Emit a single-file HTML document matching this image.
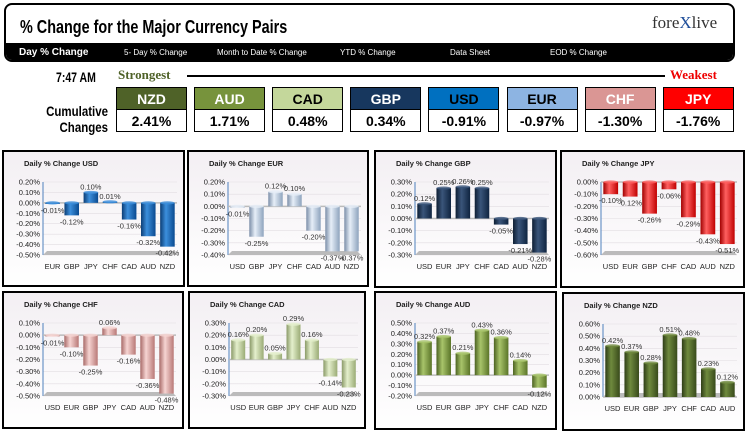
<!DOCTYPE html>
<html><head><meta charset="utf-8"><style>
body{margin:0;width:749px;height:432px;background:#fff;overflow:hidden;font-family:"Liberation Sans",sans-serif;position:relative}
.abs{position:absolute}
.hdr{left:4px;top:3px;width:731px;height:59px;border:2px solid #000;border-radius:8px;overflow:hidden;box-sizing:border-box}
.title{left:14px;top:12px;font-weight:bold;font-size:18px;transform:scaleX(.8);transform-origin:left}
.bar{left:0;top:38px;width:100%;height:21px;background:#000}
.tab{top:5px;color:#fff;font-size:8px}
.box{width:71px;height:23px;border:1px solid #000;box-sizing:border-box;text-align:center;font-weight:bold;line-height:22px}
</style></head><body>
<div class="abs hdr">
 <div class="abs title">% Change for the Major Currency Pairs</div>
 <div class="abs" style="left:646px;top:8px;font-family:'Liberation Serif',serif;font-size:17px;color:#333">fore<span style="color:#1f4e9a">X</span>live</div>
 <div class="abs bar">
  <div class="abs tab" style="left:13px;top:4px;font-size:10px;font-weight:bold">Day % Change</div>
  <div class="abs tab" style="left:118px">5- Day % Change</div>
  <div class="abs tab" style="left:211px">Month to Date % Change</div>
  <div class="abs tab" style="left:334px">YTD % Change</div>
  <div class="abs tab" style="left:444px">Data Sheet</div>
  <div class="abs tab" style="left:544px">EOD % Change</div>
 </div>
</div>
<div class="abs" style="left:56px;top:69px;font-weight:bold;font-size:14px;transform:scaleX(.75);transform-origin:left">7:47 AM</div>
<div class="abs" style="left:118px;top:67px;font-family:'Liberation Serif',serif;font-weight:bold;font-size:13px;color:#4f6228">Strongest</div>
<div class="abs" style="left:187px;top:75px;width:478px;height:2px;background:#000"></div>
<div class="abs" style="left:670px;top:67px;font-family:'Liberation Serif',serif;font-weight:bold;font-size:13px;color:#e00">Weakest</div>
<div class="abs" style="left:30px;top:103px;font-weight:bold;font-size:14px;text-align:right;line-height:16px;transform:scaleX(.82);transform-origin:right;width:78px">Cumulative<br>Changes</div>
<div id="boxes"></div>
<svg id="charts" class="abs" style="left:0;top:0" width="749" height="432"></svg>
<script>
const rankCurrencies=["NZD","AUD","CAD","GBP","USD","EUR","CHF","JPY"];
const rankValues=["2.41%","1.71%","0.48%","0.34%","-0.91%","-0.97%","-1.30%","-1.76%"];
const rankColors=["#4f6228","#77933c","#c4d79b","#17375e","#0070c0","#8db4e2","#da9694","#ff0000"];
const rankText=["#fff","#fff","#000","#fff","#000","#000","#fff","#fff"];
const bx=document.getElementById('boxes');
rankCurrencies.forEach((c,i)=>{
 const x=116+i*78.1;
 const t=document.createElement('div');t.className='abs box';
 t.style.cssText=`left:${x}px;top:87px;background:${rankColors[i]};color:${rankText[i]};font-size:14px`;
 t.textContent=c;
 
 
 bx.appendChild(t);
 const v=document.createElement('div');v.className='abs box';
 v.style.cssText=`left:${x}px;top:109px;background:#fff;font-size:14px`;
 v.textContent=rankValues[i];
 
 
 bx.appendChild(v);
});

const usdCats=["EUR","GBP","JPY","CHF","CAD","AUD","NZD"];
const usdVals=[-0.01,-0.12,0.10,0.01,-0.16,-0.32,-0.42];
const eurCats=["USD","GBP","JPY","CHF","CAD","AUD","NZD"];
const eurVals=[-0.01,-0.25,0.12,0.10,-0.20,-0.37,-0.37];
const gbpCats=["USD","EUR","JPY","CHF","CAD","AUD","NZD"];
const gbpVals=[0.12,0.25,0.26,0.25,-0.05,-0.21,-0.28];
const jpyCats=["USD","EUR","GBP","CHF","CAD","AUD","NZD"];
const jpyVals=[-0.10,-0.12,-0.26,-0.06,-0.29,-0.43,-0.51];
const chfCats=["USD","EUR","GBP","JPY","CAD","AUD","NZD"];
const chfVals=[-0.01,-0.10,-0.25,0.06,-0.16,-0.36,-0.48];
const cadCats=["USD","EUR","GBP","JPY","CHF","AUD","NZD"];
const cadVals=[0.16,0.20,0.05,0.29,0.16,-0.14,-0.23];
const audCats=["USD","EUR","GBP","JPY","CHF","CAD","NZD"];
const audVals=[0.32,0.37,0.21,0.43,0.36,0.14,-0.12];
const nzdCats=["USD","EUR","GBP","JPY","CHF","CAD","AUD"];
const nzdVals=[0.42,0.37,0.28,0.51,0.48,0.23,0.12];
const usdTicks=[0.2,0.1,0,-0.1,-0.2,-0.3,-0.4,-0.5];
const eurTicks=[0.2,0.1,0,-0.1,-0.2,-0.3,-0.4];
const gbpTicks=[0.3,0.2,0.1,0,-0.1,-0.2,-0.3];
const jpyTicks=[0,-0.1,-0.2,-0.3,-0.4,-0.5,-0.6];
const chfTicks=[0.1,0,-0.1,-0.2,-0.3,-0.4,-0.5];
const cadTicks=[0.3,0.2,0.1,0,-0.1,-0.2,-0.3];
const audTicks=[0.5,0.4,0.3,0.2,0.1,0,-0.1,-0.2];
const nzdTicks=[0.6,0.5,0.4,0.3,0.2,0.1,0];

const charts=[
 {n:"usd",t:"Daily % Change USD",c:usdCats,v:usdVals,k:usdTicks,x:3,y:151,w:181,h:135,col:["#0b3d75","#3c8fdc","#0a4a90"]},
 {n:"eur",t:"Daily % Change EUR",c:eurCats,v:eurVals,k:eurTicks,x:188,y:151,w:180,h:135,col:["#7b8ea8","#e6eef8","#8ea3bd"]},
 {n:"gbp",t:"Daily % Change GBP",c:gbpCats,v:gbpVals,k:gbpTicks,x:375,y:151,w:181,h:136,col:["#0e1e33","#3a557a","#0f2440"]},
 {n:"jpy",t:"Daily % Change JPY",c:jpyCats,v:jpyVals,k:jpyTicks,x:561,y:151,w:183,h:136,col:["#a00000","#ff6060","#c00000"]},
 {n:"chf",t:"Daily % Change CHF",c:chfCats,v:chfVals,k:chfTicks,x:3,y:292,w:180,h:136,col:["#a86a68","#f6d4d2","#b87876"]},
 {n:"cad",t:"Daily % Change CAD",c:cadCats,v:cadVals,k:cadTicks,x:189,y:292,w:176,h:136,col:["#8a9a68","#e4efcc","#9aab75"]},
 {n:"aud",t:"Daily % Change AUD",c:audCats,v:audVals,k:audTicks,x:375,y:292,w:181,h:137,col:["#4c6222","#a8c46a","#5a7428"]},
 {n:"nzd",t:"Daily % Change NZD",c:nzdCats,v:nzdVals,k:nzdTicks,x:563,y:293,w:181,h:137,col:["#2e3d17","#6f8a3e","#384a1b"]}
];
const svg=document.getElementById('charts');
const NS="http://www.w3.org/2000/svg";
function mk(tag,attrs,parent){const e=document.createElementNS(NS,tag);for(const a in attrs)e.setAttribute(a,attrs[a]);parent.appendChild(e);return e;}
const defs=mk('defs',{},svg);
const bg=mk('linearGradient',{id:'pbg',x1:0,y1:0,x2:0,y2:1},defs);
mk('stop',{offset:0,'stop-color':'#f3eff3'},bg);mk('stop',{offset:1,'stop-color':'#ffffff'},bg);
charts.forEach(ch=>{
 const g=mk('g',{},svg);
 
 
 const gr=mk('linearGradient',{id:'g'+ch.n,x1:0,y1:0,x2:1,y2:0},defs);
 mk('stop',{offset:0,'stop-color':ch.col[0]},gr);mk('stop',{offset:0.4,'stop-color':ch.col[1]},gr);mk('stop',{offset:1,'stop-color':ch.col[2]},gr);
 const frame=mk('rect',{x:ch.x,y:ch.y,width:ch.w,height:ch.h,fill:'url(#pbg)',stroke:'#000','stroke-width':2},g);
 
 
 const tt=mk('text',{x:ch.x+21,y:ch.y+15,'font-size':7.5,'font-weight':'bold',fill:'#222'},g);
 tt.textContent=ch.t;
 
 
 const L=ch.x+40,R=ch.x+ch.w-7,T=ch.y+31,B=ch.y+104;
 const mx=Math.max(...ch.k),mn=Math.min(...ch.k);
 const ys=v=>T+(mx-v)/(mx-mn)*(B-T);
 ch.k.forEach(t=>{
  const yy=ys(t);
  mk('line',{x1:L,x2:R,y1:yy,y2:yy,stroke:'#e2dde2','stroke-width':0.6},g);
  const lt=mk('text',{x:L-3,y:yy+2.5,'font-size':7.5,'text-anchor':'end',fill:'#222'},g);
  lt.textContent=t.toFixed(2)+'%';
  
  
 });
 mk('line',{x1:L,x2:L,y1:T,y2:B,stroke:'#4f81bd','stroke-width':1},g);
 mk('polygon',{points:`${L},${B} ${R},${B} ${R-4},${B-4} ${L+4},${B-4}`,fill:'#bbb'},g);
 const z=ys(0);
 mk('line',{x1:L,x2:R,y1:z,y2:z,stroke:'#bbb','stroke-width':1.5},g);
 const bw=(R-L)/ch.c.length;
 ch.c.forEach((c,i)=>{
  const cx=L+bw*(i+0.5), v=ch.v[i], yv=ys(v);
  const w=bw*0.76;
  const r=mk('rect',{x:cx-w/2,y:Math.min(z,yv),width:w,height:Math.max(Math.abs(yv-z),0.8),fill:'url(#g'+ch.n+')'},g);
  
  
  mk('ellipse',{cx:cx,cy:v>=0?yv:z,rx:w/2,ry:1.6,fill:ch.col[1],opacity:0.8},g);
  const vt=mk('text',{x:cx,y:v>=0?yv-3:yv+9,'font-size':7.5,'text-anchor':'middle',fill:'#333'},g);
  vt.textContent=v.toFixed(2)+'%';
  
  
  const ct=mk('text',{x:cx,y:B+14,'font-size':7.5,'text-anchor':'middle',fill:'#222'},g);
  ct.textContent=c;
  
  
 });
});
</script>
</body></html>
